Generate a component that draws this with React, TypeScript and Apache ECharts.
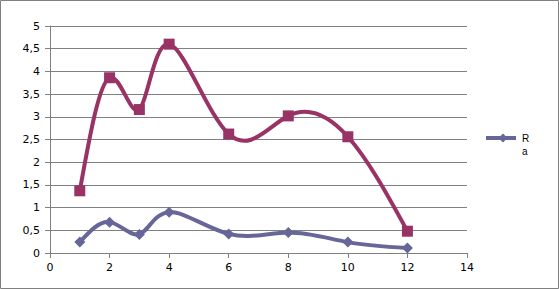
import React, { useEffect, useRef } from "react";
import * as echarts from "echarts";

const xValues = [1, 2, 3, 4, 6, 8, 10, 12];
const seriesA = [1.37, 3.86, 3.16, 4.6, 2.62, 3.02, 2.56, 0.48];
const seriesB = [0.24, 0.68, 0.41, 0.9, 0.42, 0.45, 0.24, 0.11];
const legendLabel = ["R", "a"];

const COLOR_A = "#993366";
const COLOR_B = "#666699";

// natural cubic spline first derivatives at each knot
function splineSlopes(ts: number[], vs: number[]): number[] {
  const n = ts.length;
  const h: number[] = [];
  for (let i = 0; i < n - 1; i++) h.push(ts[i + 1] - ts[i]);
  const M = new Array(n).fill(0);
  const m = n - 2;
  if (m > 0) {
    const a: number[] = [], b: number[] = [], c: number[] = [], d: number[] = [];
    for (let i = 1; i <= m; i++) {
      a.push(h[i - 1]);
      b.push(2 * (h[i - 1] + h[i]));
      c.push(h[i]);
      d.push(6 * ((vs[i + 1] - vs[i]) / h[i] - (vs[i] - vs[i - 1]) / h[i - 1]));
    }
    for (let i = 1; i < m; i++) {
      const w = a[i] / b[i - 1];
      b[i] -= w * c[i - 1];
      d[i] -= w * d[i - 1];
    }
    const sol = new Array(m).fill(0);
    sol[m - 1] = d[m - 1] / b[m - 1];
    for (let i = m - 2; i >= 0; i--) sol[i] = (d[i] - c[i] * sol[i + 1]) / b[i];
    for (let i = 0; i < m; i++) M[i + 1] = sol[i];
  }
  const s: number[] = [];
  for (let i = 0; i < n - 1; i++) {
    s.push((vs[i + 1] - vs[i]) / h[i] - (h[i] * (2 * M[i] + M[i + 1])) / 6);
  }
  s.push((vs[n - 1] - vs[n - 2]) / h[n - 2] + (h[n - 2] * (M[n - 2] + 2 * M[n - 1])) / 6);
  return s;
}

// parametric cubic spline (uniform parameter) drawn through the axis coordinates
function splineSeries(name: string, xs: number[], ys: number[], color: string) {
  return {
    name,
    type: "custom",
    data: xs.map((x, i) => [x, ys[i]]),
    encode: { x: 0, y: 1 },
    z: 2,
    renderItem: (params: any, api: any) => {
      const i = params.dataIndex;
      if (i >= xs.length - 1) return null;
      const pts = xs.map((x, k) => api.coord([x, ys[k]]));
      const ts = pts.map((_: any, k: number) => k);
      const dX = splineSlopes(ts, pts.map((p: number[]) => p[0]));
      const dY = splineSlopes(ts, pts.map((p: number[]) => p[1]));
      const p0 = pts[i];
      const p1 = pts[i + 1];
      return {
        type: "bezierCurve",
        shape: {
          x1: p0[0], y1: p0[1], x2: p1[0], y2: p1[1],
          cpx1: p0[0] + dX[i] / 3,
          cpy1: p0[1] + dY[i] / 3,
          cpx2: p1[0] - dX[i + 1] / 3,
          cpy2: p1[1] - dY[i + 1] / 3,
        },
        style: { stroke: color, lineWidth: 4, fill: "none", lineCap: "round" },
      };
    },
  };
}

export default function App() {
  const ref = useRef<HTMLDivElement>(null);
  useEffect(() => {
    document.body.style.margin = "0";
    const chart = echarts.init(ref.current!, null, { renderer: "svg" });
    const font = "DejaVu Sans";
    chart.setOption({
      animation: false,
      backgroundColor: "#fff",
      grid: { left: 50, right: 92, top: 26, bottom: 36 },
      xAxis: {
        type: "value",
        min: 0,
        max: 14,
        interval: 2,
        axisLine: { lineStyle: { color: "#808080", width: 1 } },
        axisTick: { show: true, length: 5, lineStyle: { color: "#808080" } },
        axisLabel: { color: "#000", fontFamily: font, fontSize: 11, margin: 9 },
        splitLine: { show: false },
      },
      yAxis: {
        type: "value",
        min: 0,
        max: 5,
        interval: 0.5,
        axisLine: { show: true, lineStyle: { color: "#808080", width: 1 } },
        axisTick: { show: true, length: 5, lineStyle: { color: "#808080" } },
        axisLabel: {
          color: "#000",
          fontFamily: font,
          fontSize: 11,
          margin: 10,
          formatter: (v: number) => String(v).replace(".", ","),
        },
        splitLine: { show: true, lineStyle: { color: "#808080", width: 1 } },
      },
      series: [
        splineSeries("S", xValues, seriesA, COLOR_A),
        splineSeries("R a", xValues, seriesB, COLOR_B),
        {
          name: "S markers",
          type: "line",
          data: xValues.map((x, i) => [x, seriesA[i]]),
          symbol: "rect",
          symbolSize: 11,
          showSymbol: true,
          itemStyle: { color: COLOR_A },
          lineStyle: { opacity: 0 },
          z: 3,
        },
        {
          name: "R a markers",
          type: "line",
          data: xValues.map((x, i) => [x, seriesB[i]]),
          symbol: "diamond",
          symbolSize: 11,
          showSymbol: true,
          itemStyle: { color: COLOR_B },
          lineStyle: { opacity: 0 },
          z: 3,
        },
      ],
      graphic: [
        {
          type: "rect",
          shape: { x: 0.5, y: 0.5, width: 558, height: 288 },
          style: { fill: "none", stroke: "#808080", lineWidth: 1 },
          silent: true,
        },
        {
          type: "line",
          shape: { x1: 486, y1: 138, x2: 516, y2: 138 },
          style: { stroke: COLOR_B, lineWidth: 4 },
        },
        {
          type: "polygon",
          shape: { points: [[503, 133.5], [507.5, 138], [503, 142.5], [498.5, 138]] },
          style: { fill: COLOR_B },
        },
        {
          type: "text",
          x: 522,
          y: 138,
          style: { text: legendLabel[0], fill: "#000", font: "10px Liberation Sans", verticalAlign: "middle" },
        },
        {
          type: "text",
          x: 522,
          y: 151,
          style: { text: legendLabel[1], fill: "#000", font: "10px Liberation Sans", verticalAlign: "middle" },
        },
      ],
    });
    return () => chart.dispose();
  }, []);
  return <div ref={ref} style={{ width: 559, height: 289 }} />;
}
